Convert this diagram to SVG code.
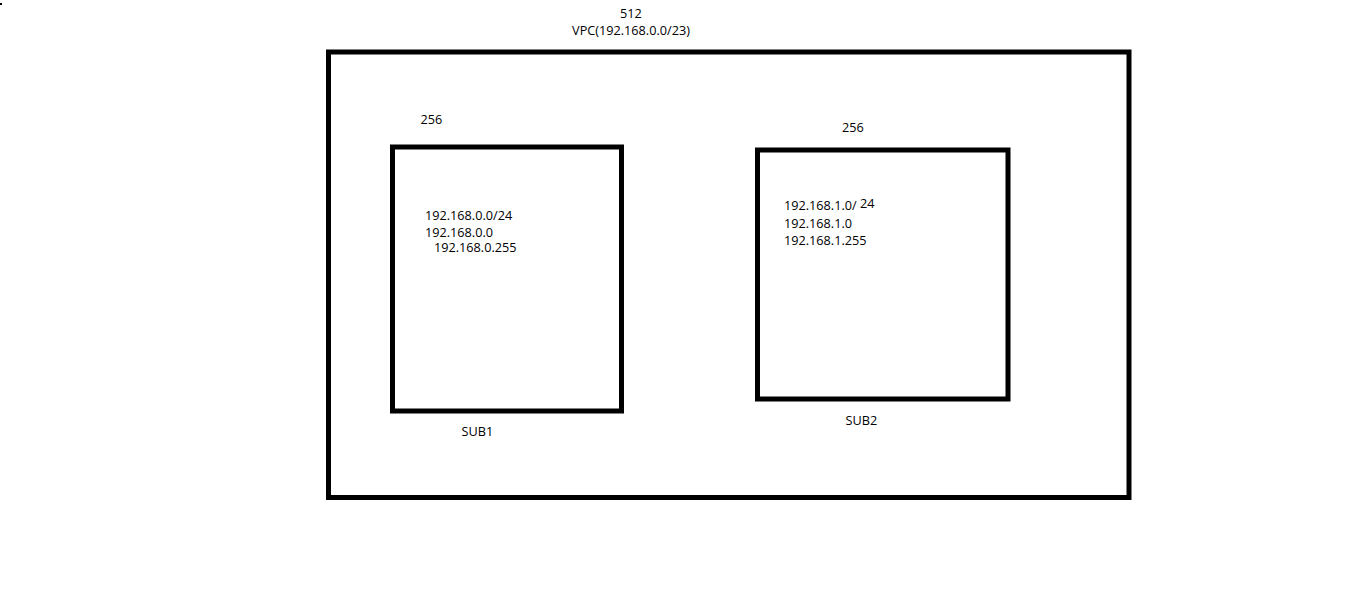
<svg xmlns="http://www.w3.org/2000/svg" width="1360" height="596" viewBox="0 0 1360 596">
<style>
.box{fill:none;stroke:#000;stroke-width:5}
text{font-family:"Open Sans","Noto Sans",sans-serif;font-size:12.7px;fill:#000}
</style>
<rect width="1360" height="596" fill="#fff"/>
<rect x="0" y="3" width="2" height="2" fill="#000"/>
<g id="vpc">
<rect class="box" x="328.5" y="52" width="800.5" height="445.5"/>
<text x="631" y="18" text-anchor="middle">512</text>
<text x="631" y="35" text-anchor="middle">VPC(192.168.0.0/23)</text>
</g>
<g id="sub1">
<rect class="box" x="392.5" y="147" width="229" height="264"/>
<text x="420.5" y="124">256</text>
<text x="425" y="220">192.168.0.0/24</text>
<text x="425" y="236.5">192.168.0.0</text>
<text x="434" y="252">192.168.0.255</text>
<text x="461.5" y="436">SUB1</text>
</g>
<g id="sub2">
<rect class="box" x="757.5" y="150" width="250.5" height="249"/>
<text x="842" y="131.5">256</text>
<text x="784" y="210">192.168.1.0/ <tspan dy="-2">24</tspan></text>
<text x="784" y="228">192.168.1.0</text>
<text x="784" y="245">192.168.1.255</text>
<text x="845.5" y="425">SUB2</text>
</g>
<g id="connectors"></g>
</svg>
